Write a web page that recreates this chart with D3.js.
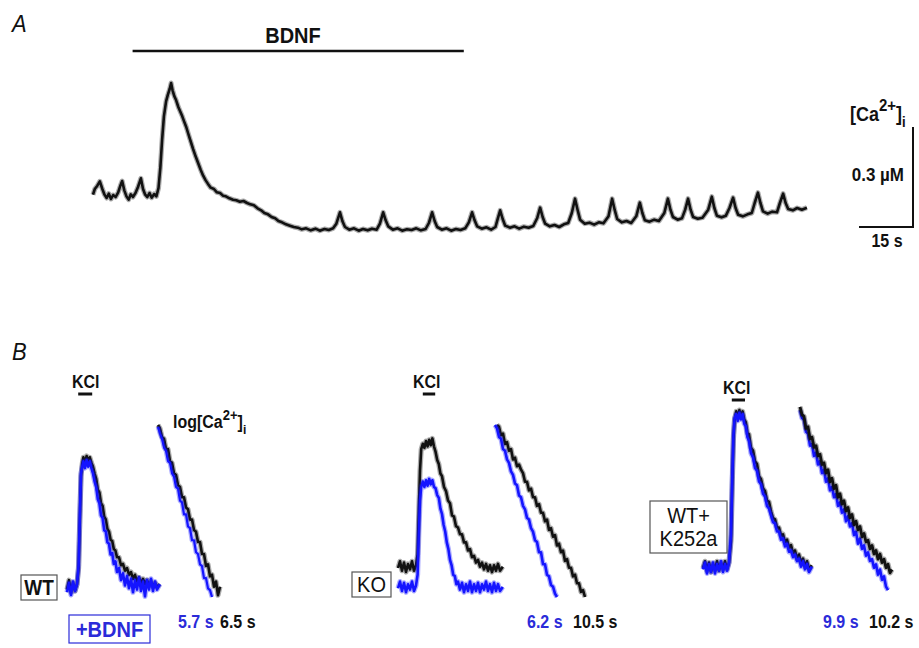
<!DOCTYPE html>
<html>
<head>
<meta charset="utf-8">
<script src="https://cdn.jsdelivr.net/npm/d3@7"></script>
<style>
  body { margin: 0; background: #fff; }
  svg text { font-family: "Liberation Sans", Arial, sans-serif; }
</style>
</head>
<body>
<div id="fig"></div>
<script>
// ---- data: panel A, [Ca2+]i trace (time s, uM)
var traceA = [[0,0.205],[0.5,0.222],[1.2,0.232],[1.9,0.245],[2.6,0.222],[3.2,0.205],[3.8,0.195],[4.4,0.208],[5.0,0.192],[5.6,0.204],[6.3,0.198],[7.0,0.212],[7.6,0.232],[8.1,0.246],[8.7,0.218],[9.3,0.200],[9.9,0.190],[10.5,0.206],[11.1,0.198],[11.8,0.210],[12.5,0.228],[13.3,0.254],[13.9,0.222],[14.5,0.205],[15.1,0.198],[15.7,0.210],[16.3,0.196],[17.0,0.207],[17.6,0.200],
  [18.2,0.225],[18.7,0.285],[19.2,0.37],[19.7,0.44],[20.3,0.485],[20.8,0.505],[21.3,0.522],[21.7,0.54],[22.1,0.518],[22.6,0.50],[23.1,0.488],[23.7,0.468],[24.2,0.455],[24.8,0.44],[25.3,0.425],[25.9,0.408],[26.4,0.39],[27.1,0.366],[27.8,0.342],[28.5,0.32],[29.2,0.300],[29.9,0.28],[30.6,0.262],[31.3,0.248],[31.9,0.238],[32.7,0.226],[33.6,0.222],[34.4,0.212],[35.3,0.210],[36.1,0.202],[36.9,0.200],[37.9,0.194],[38.9,0.190],[39.8,0.188],[40.8,0.184],[41.8,0.186],[42.8,0.180],[43.7,0.176],[44.7,0.173],[45.7,0.164],[46.7,0.158],[47.6,0.150],[48.6,0.146],[49.6,0.138],[50.6,0.134],[51.5,0.126],[52.5,0.122],[53.6,0.116],[54.7,0.112],[55.8,0.108],[56.9,0.106],[58.0,0.101],[59.2,0.104],[60.5,0.098],[61.8,0.103],[63.0,0.097],[64.3,0.102],[65.5,0.099],[66.7,0.104],[67.6,0.118],[68.6,0.152],[69.3,0.125],[70.0,0.108],[71.2,0.100],[72.5,0.104],[73.8,0.097],[75.0,0.102],[76.3,0.098],[77.5,0.103],[78.8,0.100],[79.7,0.118],[80.6,0.152],[81.3,0.128],[82.0,0.110],[83.3,0.100],[84.6,0.104],[85.9,0.097],[87.2,0.101],[88.5,0.099],[89.8,0.104],[91.1,0.098],[92.4,0.102],[93.3,0.120],[94.2,0.152],[94.9,0.126],[95.6,0.108],[96.9,0.100],[98.2,0.104],[99.5,0.097],[100.8,0.102],[102.1,0.099],[103.4,0.104],[104.4,0.122],[105.3,0.152],[106.0,0.128],[106.7,0.110],[108.0,0.103],[109.3,0.107],[110.6,0.100],[111.8,0.108],[112.3,0.128],[113.1,0.158],[113.8,0.132],[114.5,0.112],[115.8,0.106],[117.1,0.110],[118.4,0.103],[119.7,0.109],[121.0,0.106],[122.3,0.111],[123.4,0.135],[124.2,0.166],[124.9,0.138],[125.6,0.118],[126.9,0.110],[128.2,0.114],[129.5,0.108],[130.8,0.116],[132.0,0.120],[133.0,0.150],[133.9,0.193],[134.6,0.160],[135.3,0.130],[136.6,0.118],[137.9,0.121],[139.2,0.115],[140.5,0.122],[141.8,0.119],[143.2,0.140],[144.2,0.193],[144.9,0.160],[145.6,0.132],[146.9,0.122],[148.2,0.126],[149.5,0.120],[150.9,0.140],[151.9,0.181],[152.6,0.150],[153.3,0.128],[154.6,0.124],[155.9,0.130],[157.2,0.126],[158.7,0.150],[159.7,0.193],[160.4,0.160],[161.1,0.138],[162.4,0.130],[163.6,0.134],[164.5,0.160],[165.3,0.193],[166.0,0.160],[166.7,0.138],[168.0,0.133],[169.3,0.136],[170.9,0.160],[171.9,0.199],[172.6,0.165],[173.3,0.142],[174.6,0.137],[175.8,0.142],[176.8,0.165],[177.8,0.196],[178.5,0.165],[179.2,0.145],[180.5,0.140],[181.8,0.146],[183.0,0.150],[183.8,0.180],[184.7,0.211],[185.4,0.180],[186.1,0.155],[187.4,0.148],[188.7,0.154],[190.0,0.152],[190.8,0.180],[191.7,0.208],[192.4,0.180],[193.1,0.162],[194.4,0.158],[195.6,0.165],[196.9,0.160],[198.3,0.166]];
var bdnfPeriod = [11, 103];   // seconds, BDNF application bar
var scaleBarA = {sec: 15, uM: 0.3};

// ---- data: panel B, KCl responses (time s, normalised [Ca2+]i)
var wtCtrl = [[0,.04],[.5,.11],[1,.02],[1.5,.09],[2,.03],[2.5,.08],[2.9,.20],[3.2,.55],[3.5,.88],[3.8,.97],[4.1,1.02],[4.5,.98],[4.9,1.03],[5.3,.99],[5.7,1.02],[6.1,.98],[6.5,.95],[6.9,.90],[7.3,.86],[7.7,.78],[8.1,.76],[8.5,.68],[8.9,.66],[9.3,.58],[9.7,.56],[10.1,.49],[10.5,.47],[10.9,.41],[11.3,.40],[11.7,.34],[12.1,.33],[12.5,.28],[13,.28],[13.5,.22],[14,.23],[14.5,.18],[15,.20],[15.5,.15],[16,.17],[16.5,.12],[17,.15],[17.5,.10],[18,.13],[18.5,.09],[19,.12],[19.5,.08],[20,.11],[20.5,.07],[21,.10],[21.5,.06],[22,.09],[22.5,.06],[23.2,.08]];
var wtBdnf = [[0,.02],[.5,.09],[1,.00],[1.5,.10],[2,.03],[2.5,.08],[2.9,.22],[3.2,.58],[3.5,.90],[3.8,.95],[4.1,.99],[4.5,.94],[4.9,1.0],[5.3,.95],[5.7,.99],[6.1,.94],[6.5,.90],[6.9,.84],[7.3,.80],[7.7,.71],[8.1,.68],[8.5,.59],[8.9,.57],[9.3,.48],[9.7,.47],[10.1,.39],[10.5,.38],[10.9,.30],[11.3,.31],[11.7,.23],[12.1,.25],[12.5,.17],[13,.20],[13.5,.11],[14,.16],[14.5,.07],[15,.14],[15.5,.05],[16,.12],[16.5,.02],[17,.11],[17.5,.04],[18,.13],[18.5,.03],[19,.10],[19.5,-.01],[20,.11],[20.5,.04],[21,.12],[21.5,.03],[22,.10],[22.5,.04],[23.2,.08]];
var wtCtrlLog = [[0,1.0],[.5,.98],[1,.93],[1.5,.92],[2,.86],[2.5,.86],[3,.79],[3.5,.78],[4,.72],[4.5,.71],[5,.65],[5.5,.64],[6,.58],[6.5,.58],[7,.52],[7.5,.51],[8,.45],[8.5,.45],[9,.39],[9.5,.38],[10,.32],[10.5,.32],[11,.25],[11.5,.25],[12,.18],[12.5,.19],[13,.12],[13.5,.13],[14,.06],[14.5,.09],[15,.01],[15.5,.06]];
var wtBdnfLog = [[0,.99],[.5,.95],[1,.92],[1.5,.87],[2,.85],[2.5,.79],[3,.78],[3.5,.72],[4,.70],[4.5,.64],[5,.63],[5.5,.56],[6,.55],[6.5,.48],[7,.48],[7.5,.41],[8,.40],[8.5,.33],[9,.33],[9.5,.26],[10,.25],[10.5,.19],[11,.18],[11.5,.11],[12,.11],[12.5,.05],[13,.04],[13.5,.0]];

var koCtrl = [[0,.20],[.5,.25],[1,.18],[1.5,.24],[2,.17],[2.5,.23],[3,.19],[3.5,.25],[4,.18],[4.5,.22],[4.9,.30],[5.2,.62],[5.5,.92],[5.8,1.08],[6.2,1.12],[6.6,1.09],[7,1.14],[7.4,1.10],[7.8,1.15],[8.2,1.11],[8.6,1.16],[9,1.10],[9.4,1.06],[9.8,1.0],[10.2,.97],[10.6,.90],[11,.88],[11.5,.80],[12,.77],[12.5,.70],[13,.68],[13.5,.59],[14,.58],[14.5,.51],[15,.50],[15.5,.45],[16,.45],[16.5,.39],[17,.39],[17.5,.33],[18,.34],[18.5,.28],[19,.29],[19.5,.24],[20,.26],[20.5,.21],[21,.24],[21.5,.19],[22,.23],[22.5,.18],[23,.22],[23.5,.17],[24,.22],[24.5,.18],[25,.23],[25.5,.18],[26.2,.21]];
var koBdnf = [[0,.05],[.5,.10],[1,.03],[1.5,.09],[2,.02],[2.5,.08],[3,.04],[3.5,.10],[4,.03],[4.5,.07],[4.9,.15],[5.2,.45],[5.5,.70],[5.8,.80],[6.2,.84],[6.6,.80],[7,.85],[7.4,.81],[7.8,.86],[8.2,.82],[8.6,.85],[9,.80],[9.4,.79],[9.8,.74],[10.2,.72],[10.6,.64],[11,.60],[11.4,.52],[11.8,.47],[12.2,.39],[12.6,.34],[13,.26],[13.4,.22],[13.8,.15],[14.2,.14],[14.6,.08],[15,.10],[15.5,.04],[16,.09],[16.5,.02],[17,.08],[17.5,.03],[18,.10],[18.5,.02],[19,.08],[19.5,.03],[20,.09],[20.5,.02],[21,.08],[21.5,.04],[22,.10],[22.5,.03],[23,.08],[23.5,.02],[24,.09],[24.5,.03],[25,.08],[25.5,.03],[26.2,.06]];
var koCtrlLog = [[.5,1.0],[1,.99],[1.5,.94],[2,.95],[2.5,.89],[3,.90],[3.5,.85],[4,.86],[4.5,.80],[5,.81],[5.5,.76],[6,.77],[6.5,.74],[7,.72],[7.5,.67],[8,.67],[8.5,.62],[9,.63],[9.5,.58],[10,.58],[10.5,.53],[11,.54],[11.5,.49],[12,.49],[12.5,.44],[13,.45],[13.5,.39],[14,.40],[14.5,.35],[15,.36],[15.5,.30],[16,.31],[16.5,.26],[17,.27],[17.5,.21],[18,.22],[18.5,.17],[19,.17],[19.5,.12],[20,.13],[20.5,.08],[21,.08],[21.5,.03],[22,.04],[22.5,.0]];
var koBdnfLog = [[0,1.0],[.5,.98],[1,.93],[1.5,.92],[2,.86],[2.5,.85],[3,.80],[3.5,.78],[4,.73],[4.5,.71],[5,.66],[5.5,.65],[6,.59],[6.5,.58],[7,.53],[7.5,.51],[8,.46],[8.5,.45],[9,.40],[9.5,.38],[10,.33],[10.5,.32],[11,.26],[11.5,.26],[12,.19],[12.5,.19],[13,.13],[13.5,.12],[14,.07],[14.5,.06],[15,.02],[15.5,.0]];

var kCtrl = [[0,.20],[.5,.25],[1,.18],[1.5,.24],[2,.17],[2.5,.23],[3,.19],[3.5,.25],[4,.18],[4.5,.24],[5,.19],[5.5,.25],[6,.19],[6.5,.24],[7,.40],[7.3,.80],[7.6,1.15],[7.9,1.30],[8.3,1.36],[8.7,1.31],[9.1,1.37],[9.5,1.32],[9.9,1.36],[10.3,1.30],[10.7,1.28],[11.1,1.20],[11.5,1.19],[12,1.09],[12.5,1.07],[13,.99],[13.5,.97],[14,.88],[14.5,.86],[15,.79],[15.5,.77],[16,.70],[16.5,.69],[17,.62],[17.5,.57],[18,.56],[18.5,.50],[19,.50],[19.5,.44],[20,.45],[20.5,.39],[21,.41],[21.5,.35],[22,.37],[22.5,.31],[23,.33],[23.5,.27],[24,.30],[24.5,.24],[25,.27],[25.5,.21],[26,.25],[26.5,.19],[27.2,.22]];
var kBdnf = [[0,.19],[.5,.24],[1,.16],[1.5,.23],[2,.17],[2.5,.24],[3,.16],[3.5,.23],[4,.18],[4.5,.25],[5,.17],[5.5,.23],[6,.18],[6.5,.24],[7,.45],[7.3,.85],[7.6,1.18],[7.9,1.31],[8.3,1.34],[8.7,1.29],[9.1,1.35],[9.5,1.30],[9.9,1.34],[10.3,1.27],[10.7,1.25],[11.1,1.17],[11.5,1.14],[12,1.05],[12.5,1.02],[13,.94],[13.5,.92],[14,.84],[14.5,.82],[15,.75],[15.5,.73],[16,.66],[16.5,.64],[17,.59],[17.5,.54],[18,.53],[18.5,.47],[19,.47],[19.5,.41],[20,.42],[20.5,.36],[21,.38],[21.5,.32],[22,.33],[22.5,.28],[23,.30],[23.5,.25],[24,.27],[24.5,.21],[25,.25],[25.5,.19],[26,.23],[26.5,.17],[27.2,.21]];
var kCtrlLog = [[0,1.105],[.5,1.06],[1,1.05],[1.5,.98],[2,.99],[2.5,.92],[3,.93],[3.5,.87],[4,.88],[4.5,.82],[5,.83],[5.5,.77],[6,.78],[6.5,.72],[7,.74],[7.5,.67],[8,.69],[8.5,.63],[9,.65],[9.5,.58],[10,.60],[10.5,.54],[11,.56],[11.5,.50],[12,.52],[12.5,.46],[13,.48],[13.5,.42],[14,.44],[14.5,.39],[15,.41],[15.5,.35],[16,.37],[16.5,.32],[17,.33],[17.5,.28],[18,.30],[18.5,.25],[19,.27],[19.5,.22],[20,.25],[20.5,.20],[21,.22],[21.5,.17],[22,.19],[22.5,.14],[23,.16]];
var kBdnfLog = [[0,1.087],[.5,1.04],[1,1.03],[1.5,.96],[2,.95],[2.5,.88],[3,.89],[3.5,.82],[4,.84],[4.5,.77],[5,.79],[5.5,.72],[6,.74],[6.5,.67],[7,.69],[7.5,.62],[8,.64],[8.5,.58],[9,.60],[9.5,.53],[10,.55],[10.5,.49],[11,.51],[11.5,.44],[12,.47],[12.5,.41],[13,.43],[13.5,.36],[14,.38],[14.5,.31],[15,.34],[15.5,.28],[16,.30],[16.5,.24],[17,.26],[17.5,.21],[18,.22],[18.5,.17],[19,.19],[19.5,.13],[20,.16],[20.5,.10],[21,.12],[21.5,.06],[22,.04]];

var kclPeriod = {wt: [2.8, 6.3], ko: [6.2, 9.3], k252a: [7.2, 10.5]};
var tauLabels = {wt: ["5.7 s", "6.5 s"], ko: ["6.2 s", "10.5 s"], k252a: ["9.9 s", "10.2 s"]};

var BLUE = "#1414ff";
var BLUE_TXT = "#2b2bd9";
var STRETCH = 1.12;   // source lettering is a little taller than Arial

var width = 919, height = 648;
var svg = d3.select("#fig").append("svg")
  .attr("width", width)
  .attr("height", height);

// text helper: slightly stretched vertically like the original figure
function addText(x, y, str, size, opts) {
  opts = opts || {};
  var t = svg.append("text")
    .attr("transform", "translate(" + x + "," + y + ") scale(1," + STRETCH + ")")
    .attr("text-anchor", opts.anchor || "start")
    .attr("fill", opts.color || "#111")
    .style("font-size", size + "px")
    .style("font-weight", opts.bold === false ? "normal" : "bold")
    .style("font-style", opts.italic ? "italic" : "normal");
  if (str !== null) t.text(str);
  return t;
}

// ---------------- Panel A ----------------
var xA = d3.scaleLinear().domain([0, 200]).range([93, 813]);
var yA = d3.scaleLinear().domain([0, 0.6]).range([263, 63]);

var lineA = d3.line()
  .x(function(d) { return xA(d[0]); })
  .y(function(d) { return yA(d[1]); });

addText(12, 32, "A", 22, {italic: true, bold: false});

// BDNF bar
svg.append("line")
  .attr("x1", xA(bdnfPeriod[0])).attr("x2", xA(bdnfPeriod[1]))
  .attr("y1", 51).attr("y2", 51)
  .attr("stroke", "#111").attr("stroke-width", 2.5);
addText(293, 43, "BDNF", 20, {anchor: "middle"});

// fuzzy halo + core, the recording is noisy
svg.append("path")
  .datum(traceA)
  .attr("d", lineA)
  .attr("fill", "none")
  .attr("stroke", "#111")
  .attr("stroke-opacity", 0.35)
  .attr("stroke-width", 5)
  .attr("stroke-linejoin", "round");
svg.append("path")
  .datum(traceA)
  .attr("d", lineA)
  .attr("fill", "none")
  .attr("stroke", "#111")
  .attr("stroke-width", 2.6)
  .attr("stroke-linejoin", "round");

// scale bar
var sbRight = 913, sbBottom = 227;
var sbW = xA(scaleBarA.sec) - xA(0);
var sbH = yA(0) - yA(scaleBarA.uM);
svg.append("path")
  .attr("d", "M" + (sbRight - sbW) + "," + sbBottom + "H" + sbRight + "V" + (sbBottom - sbH))
  .attr("fill", "none").attr("stroke", "#111").attr("stroke-width", 2);
addText(sbRight - sbW / 2 + 1, 247, scaleBarA.sec + " s", 16, {anchor: "middle"});
addText(904, 181, scaleBarA.uM + " \u00b5M", 17, {anchor: "end"});
var caLab = addText(850, 121, null, 18);
caLab.append("tspan").text("[Ca");
caLab.append("tspan").attr("dy", -9).style("font-size", "15px").text("2+");
caLab.append("tspan").attr("dy", 9).text("]");
caLab.append("tspan").attr("dy", 5).style("font-size", "13px").text("i");

// ---------------- Panel B ----------------
addText(12, 360, "B", 22, {italic: true, bold: false});

var xB = d3.scaleLinear().domain([0, 1]).range([0, 4]);    // 4 px per second
var yB = d3.scaleLinear().domain([0, 1]).range([595, 460]);
var yL = d3.scaleLinear().domain([0, 1]).range([597, 425]);

function drawTrace(g, data, y, color, w) {
  var ln = d3.line()
    .x(function(d) { return xB(d[0]); })
    .y(function(d) { return y(d[1]); });
  g.append("path")
    .datum(data)
    .attr("d", ln)
    .attr("fill", "none")
    .attr("stroke", color)
    .attr("stroke-opacity", 0.35)
    .attr("stroke-width", w + 2.5)
    .attr("stroke-linejoin", "round");
  g.append("path")
    .datum(data)
    .attr("d", ln)
    .attr("fill", "none")
    .attr("stroke", color)
    .attr("stroke-width", w)
    .attr("stroke-linejoin", "round");
}

function kclMark(x0, period, textX, textY) {
  svg.append("line")
    .attr("x1", x0 + xB(period[0])).attr("x2", x0 + xB(period[1]))
    .attr("y1", textY + 6).attr("y2", textY + 6)
    .attr("stroke", "#111").attr("stroke-width", 3);
  addText(x0 + textX, textY, "KCl", 16);
}

function tauText(x, labels) {
  addText(x, 628, labels[0], 16, {color: BLUE_TXT});
  addText(x + (labels[1].length > 5 ? 46 : 42), 628, labels[1], 16);
}

function labelBox(x, y, w, h, lines, color, bold, size) {
  svg.append("rect").attr("x", x).attr("y", y).attr("width", w).attr("height", h)
    .attr("fill", "#fff").attr("stroke", color === "#111" ? "#555" : color)
    .attr("stroke-width", 1.2);
  lines.forEach(function(t, i) {
    addText(x + w / 2, y + h / 2 + size * 0.38 + (i - (lines.length - 1) / 2) * (size + 3),
      t, size, {anchor: "middle", bold: bold, color: color === "#111" ? "#111" : BLUE_TXT});
  });
}

// WT
var gWt = svg.append("g").attr("transform", "translate(67,0)");
drawTrace(gWt, wtCtrl, yB, "#111", 2.6);
drawTrace(gWt, wtBdnf, yB, BLUE, 2.6);
kclMark(67, kclPeriod.wt, 5, 388);
var gWtL = svg.append("g").attr("transform", "translate(158,0)");
drawTrace(gWtL, wtCtrlLog, yL, "#111", 2.6);
drawTrace(gWtL, wtBdnfLog, yL, BLUE, 2.2);
var logLab = addText(173, 428, null, 16);
logLab.append("tspan").text("log[Ca");
logLab.append("tspan").attr("dy", -7).style("font-size", "13px").text("2+");
logLab.append("tspan").attr("dy", 7).text("]");
logLab.append("tspan").attr("dy", 5).style("font-size", "12px").text("i");
labelBox(21, 575, 36, 25, ["WT"], "#111", true, 19);
labelBox(69, 615, 81, 28, ["+BDNF"], BLUE_TXT, true, 20);
tauText(178, tauLabels.wt);

// KO
var gKo = svg.append("g").attr("transform", "translate(398,0)");
drawTrace(gKo, koCtrl, yB, "#111", 2.6);
drawTrace(gKo, koBdnf, yB, BLUE, 2.6);
kclMark(398, kclPeriod.ko, 15, 388);
var gKoL = svg.append("g").attr("transform", "translate(495,0)");
drawTrace(gKoL, koCtrlLog, yL, "#111", 2.6);
drawTrace(gKoL, koBdnfLog, yL, BLUE, 2.6);
labelBox(352, 572, 39, 25, ["KO"], "#111", false, 20);
tauText(527, tauLabels.ko);

// WT + K252a
var gK = svg.append("g").attr("transform", "translate(703,0)");
drawTrace(gK, kCtrl, yB, "#111", 2.6);
drawTrace(gK, kBdnf, yB, BLUE, 2.6);
kclMark(703, kclPeriod.k252a, 20, 394);
var gKL = svg.append("g").attr("transform", "translate(800,0)");
drawTrace(gKL, kBdnfLog, yL, BLUE, 2.6);
drawTrace(gKL, kCtrlLog, yL, "#111", 2.8);
labelBox(650, 501, 77, 52, ["WT+", "K252a"], "#111", false, 20);
tauText(823, tauLabels.k252a);
</script>
</body>
</html>
